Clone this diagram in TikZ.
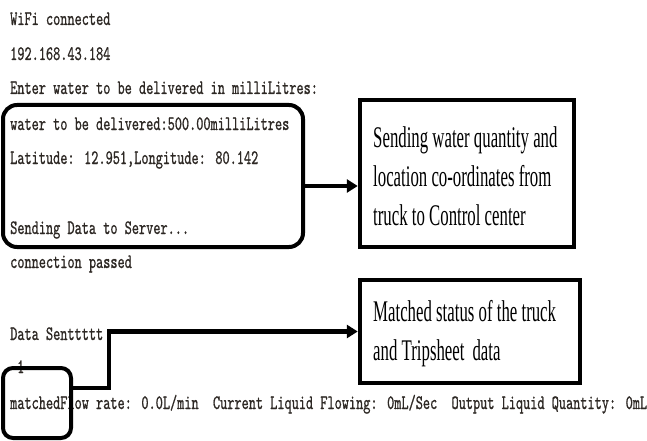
\documentclass[tikz,border=0pt]{standalone}
\usepackage{fontspec}
\usetikzlibrary{arrows.meta}
% serial-monitor typeface and the narrow serif used for the notes
\newfontfamily\termfont{lmmono10-regular.otf}[FakeStretch=0.665,FakeBold=0.8]
\newfontfamily\notefont{Liberation Serif}[FakeStretch=0.56]
\definecolor{termgray}{RGB}{45,40,36}
\newcommand\notetype{\notefont\fontsize{30}{39}\selectfont}

\begin{document}
\begin{tikzpicture}[x=1pt,y=-1pt,
  console/.style={anchor=base west, inner sep=0pt, text=termgray,
    font=\termfont\fontsize{20.5}{20.5}\selectfont},
  frame/.style={draw=black, line width=4pt, rounded corners=14pt},
  notebox/.style={draw=black, line width=4.5pt},
  notetext/.style={align=left, inner sep=0pt, anchor=west, font=\notetype},
  conn/.style={line width=4.5pt, -{Triangle[length=11pt,width=13pt]}}]

\fill[white] (0,0) rectangle (647,441);
\useasboundingbox (0,0) rectangle (647,441);

% serial monitor output
\node[console] (l1)  at (10,25)  {WiFi connected};
\node[console] (l2)  at (10,60)  {192.168.43.184};
\node[console] (l3)  at (10,94)  {Enter water to be delivered in milliLitres:};
\node[console] (l4)  at (10,130) {water to be delivered:500.00milliLitres};
\node[console] (l5)  at (10,164) {Latitude: 12.951,Longitude: 80.142};
\node[console] (l6)  at (10,234) {Sending Data to Server...};
\node[console] (l7)  at (10,268) {connection passed};
\node[console] (l8)  at (10,340) {Data Senttttt};
\node[console] (l9)  at (17,373) {1};
\node[console] (l10) at (10,409) {matchedFlow rate: 0.0L/min~ Current Liquid Flowing: 0mL/Sec~ Output Liquid Quantity: 0mL};

% highlighted regions
\node[frame, minimum width=300pt, minimum height=142pt] (sendframe) at (153,176) {};
\node[frame, rounded corners=10pt, minimum width=68pt, minimum height=70pt] (matchframe) at (37,403) {};

% explanatory notes
\node[notebox, minimum width=214pt, minimum height=147pt] (sendnote) at (467,173.5) {};
\node[notetext] (sendtext) at (373,176)
  {Sending water quantity and\\ location co-ordinates from\\ truck to Control center};
\node[notebox, minimum width=220pt, minimum height=103pt] (matchnote) at (470,331.5) {};
\node[notetext] (matchtext) at (373,334)
  {Matched status of the truck\\ and Tripsheet\hspace{8pt}data};

% connectors
\draw[conn] ([yshift=-10pt]sendframe.east) coordinate (s1) -- (s1 -| sendnote.west);
\draw[conn] ([yshift=15pt]matchframe.east) coordinate (s2) -- ++(36,0) |- (matchnote.west);
\end{tikzpicture}
\end{document}
